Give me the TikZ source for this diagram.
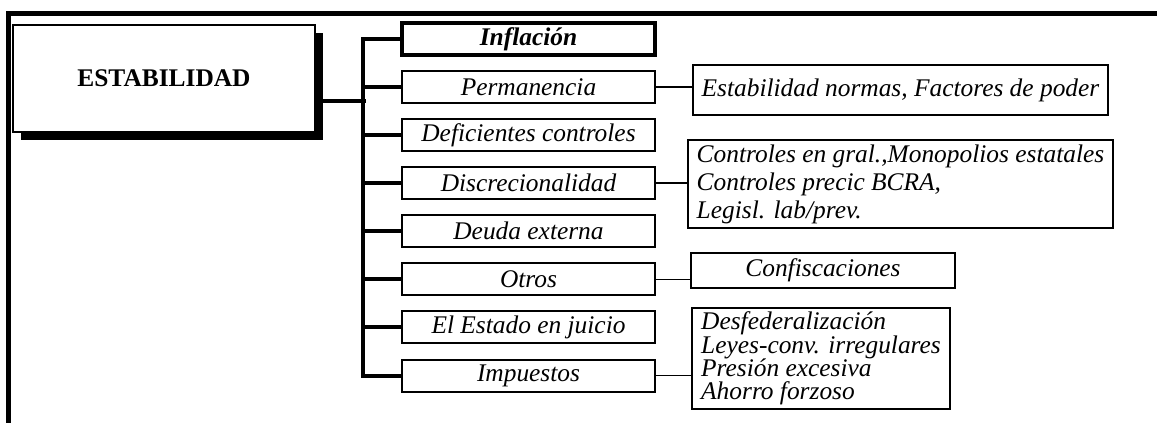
\documentclass[tikz,border=0pt]{standalone}
\usepackage{fontspec}
\setmainfont{Liberation Serif}
\usetikzlibrary{arrows,shapes,shadows}
\tikzstyle{item}=[draw,line width=1pt,minimum width=126.5pt,minimum height=16pt,inner sep=1pt,font=\fontsize{12.7}{14}\selectfont\itshape]
\tikzstyle{detail}=[draw,line width=1pt,align=left,inner sep=2pt,font=\fontsize{12.7}{14}\selectfont\itshape]
\tikzstyle{trunk} = [draw,line width=2pt,-]
\tikzstyle{link} = [draw,line width=0.9pt,-]

\begin{document}
\begin{tikzpicture}[x=0.5pt,y=-0.5pt]
    \useasboundingbox (0,0) rectangle (1157,423);
    % First the frame and the main box
    \draw[line width=2.5pt] (1157,13) -- (8,13) -- (8,423);
    \node[draw,fill=white,line width=1pt,minimum width=151pt,minimum height=53.5pt,
          drop shadow={shadow xshift=4pt,shadow yshift=-4pt,fill=black,opacity=1},
          font=\fontsize{12.7}{14}\selectfont\bfseries] (est) at (164,78.5) {ESTABILIDAD};
    % Then the branches
    \node[item,line width=2.2pt] (infl) at (528.5,39) {\bfseries Inflación};
    \foreach \y/\name/\label in {87.1/perm/Permanencia, 135.1/defi/Deficientes controles,
        183.2/disc/Discrecionalidad, 231.3/deuda/Deuda externa, 279.4/otros/Otros,
        327.4/estado/El Estado en juicio, 375.5/imp/Impuestos}
        \node[item] (\name) at (528.5,\y) {\label};
    % Connect the branches to the trunk
    \path[trunk] (infl.west) -- ++(-37,0) |- (imp.west);
    \foreach \name in {perm,defi,disc,deuda,otros,estado}
        \path[trunk] (\name.west) -- ++(-37,0);
    \path[trunk] ([yshift=-11.25pt]est.east) -- ++(50,0);
    % The details on the right
    \node[detail,minimum width=207.5pt,minimum height=25pt] (norms) at (900.5,90)
        {Estabilidad normas, Factores de poder};
    \node[detail,minimum width=212.5pt,minimum height=43pt] (ctrl) at (900.5,184)
        {Controles en gral.,Monopolios estatales\\Controles precic BCRA,\\Legisl. lab/prev.};
    \node[detail,minimum width=132pt,minimum height=17.5pt] (conf) at (823,270) {Confiscaciones};
    \node[detail,minimum width=129pt,minimum height=48.5pt,font=\fontsize{12.7}{11.7}\selectfont\itshape] (tax) at (821,358.5)
        {Desfederalización\\Leyes-conv. irregulares\\Presión excesiva\\Ahorro forzoso};
    \foreach \source/\dest in {perm/norms, disc/ctrl, otros/conf, imp/tax}
        \path[link] (\source.east) -- (\source.east -| \dest.west);
\end{tikzpicture}
\end{document}
